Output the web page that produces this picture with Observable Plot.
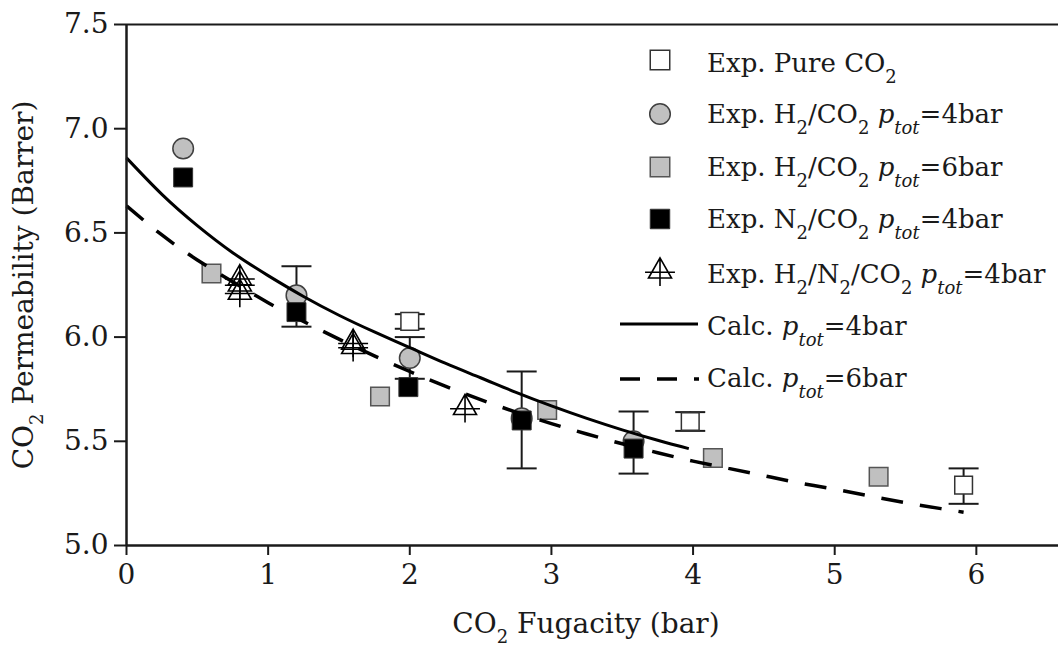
<!DOCTYPE html>
<html>
<head>
<meta charset="utf-8">
<script src="https://cdn.jsdelivr.net/npm/d3@7"></script>
<script src="https://cdn.jsdelivr.net/npm/@observablehq/plot@0.6"></script>
<style>
  html, body { margin: 0; padding: 0; background: #fff; }
  svg { display: block; }
</style>
</head>
<body>
<div id="chart"></div>
<script>
// ---------- data ----------
const xTicks = [0, 1, 2, 3, 4, 5, 6];
const yTicks = [5.0, 5.5, 6.0, 6.5, 7.0, 7.5];

// Exp. Pure CO2 (open squares, with error bars)
const pureX = [2.00, 3.98, 5.91];
const pureY = [6.075, 5.595, 5.29];
const pureLo = [6.04, 5.55, 5.20];
const pureHi = [6.11, 5.64, 5.37];

// Exp. H2/CO2 ptot=4bar (grey circles, with error bars)
const h4X = [0.40, 1.20, 2.00, 2.79, 3.58];
const h4Y = [6.905, 6.20, 5.90, 5.61, 5.50];
const h4Lo = [null, 6.05, 5.80, 5.37, 5.345];
const h4Hi = [null, 6.34, 6.00, 5.835, 5.643];

// Exp. H2/CO2 ptot=6bar (grey squares)
const h6X = [0.60, 1.79, 2.97, 4.14, 5.31];
const h6Y = [6.305, 5.715, 5.65, 5.42, 5.33];

// Exp. N2/CO2 ptot=4bar (black squares)
const n4X = [0.40, 1.20, 1.99, 2.79, 3.58];
const n4Y = [6.766, 6.12, 5.76, 5.60, 5.465];

// Exp. H2/N2/CO2 ptot=4bar (triangles with cross)
const tX = [0.80, 0.80, 0.80, 1.60, 1.60, 2.39];
const tY = [6.29, 6.26, 6.22, 5.98, 5.96, 5.667];

// Calc. ptot=4bar (solid)
const c4X = [0, 0.25, 0.5, 0.75, 1.0, 1.25, 1.5, 1.75, 2.0, 2.25, 2.5, 2.75, 3.0, 3.25, 3.5, 3.75, 3.97];
const c4Y = [6.86, 6.685, 6.535, 6.405, 6.295, 6.195, 6.105, 6.025, 5.95, 5.875, 5.805, 5.735, 5.67, 5.61, 5.555, 5.505, 5.465];

// Calc. ptot=6bar (dashed)
const c6X = [0, 0.25, 0.5, 0.75, 1.0, 1.25, 1.5, 1.75, 2.0, 2.25, 2.5, 2.75, 3.0, 3.25, 3.5, 3.75, 4.0, 4.25, 4.5, 4.75, 5.0, 5.25, 5.5, 5.75, 5.91];
const c6Y = [6.63, 6.49, 6.37, 6.265, 6.165, 6.075, 5.99, 5.91, 5.835, 5.765, 5.70, 5.64, 5.585, 5.535, 5.488, 5.445, 5.405, 5.37, 5.335, 5.30, 5.27, 5.237, 5.205, 5.177, 5.16];

// legend labels: [text, style] segments (sub = subscript, i = italic, isub = italic subscript)
const legendLabels = [
  [["Exp. Pure CO"], ["2", "sub"]],
  [["Exp. H"], ["2", "sub"], ["/CO"], ["2", "sub"], [" "], ["p", "i"], ["tot", "isub"], ["=4bar"]],
  [["Exp. H"], ["2", "sub"], ["/CO"], ["2", "sub"], [" "], ["p", "i"], ["tot", "isub"], ["=6bar"]],
  [["Exp. N"], ["2", "sub"], ["/CO"], ["2", "sub"], [" "], ["p", "i"], ["tot", "isub"], ["=4bar"]],
  [["Exp. H"], ["2", "sub"], ["/N"], ["2", "sub"], ["/CO"], ["2", "sub"], [" "], ["p", "i"], ["tot", "isub"], ["=4bar"]],
  [["Calc. "], ["p", "i"], ["tot", "isub"], ["=4bar"]],
  [["Calc. "], ["p", "i"], ["tot", "isub"], ["=6bar"]]
];
const xLabel = [["CO"], ["2", "sub"], [" Fugacity (bar)"]];
const yLabel = [["CO"], ["2", "sub"], [" Permeability (Barrer)"]];

// ---------- helpers ----------
const zip = (xs, ys) => xs.map((x, i) => ({x, y: ys[i]}));
const errs = (xs, lo, hi) => xs.map((x, i) => ({x, lo: lo[i], hi: hi[i]})).filter(d => d.lo != null);

const triCross = {
  draw(ctx, size) {
    const s = Math.sqrt(size / Math.PI);
    ctx.moveTo(0, -1.05 * s);
    ctx.lineTo(1.0 * s, 0.7 * s);
    ctx.lineTo(-1.0 * s, 0.7 * s);
    ctx.closePath();
    ctx.moveTo(-1.3 * s, 0.2 * s);
    ctx.lineTo(1.3 * s, 0.2 * s);
    ctx.moveTo(0, -1.05 * s);
    ctx.lineTo(0, 1.4 * s);
  }
};
const capSym = {
  draw(ctx, size) {
    const s = Math.sqrt(size / Math.PI);
    ctx.moveTo(-s, 0);
    ctx.lineTo(s, 0);
  }
};

const pure = zip(pureX, pureY);
const h4 = zip(h4X, h4Y);
const h6 = zip(h6X, h6Y);
const n4 = zip(n4X, n4Y);
const tri = zip(tX, tY);
const c4 = zip(c4X, c4Y);
const c6 = zip(c6X, c6Y);
const errAll = errs(pureX, pureLo, pureHi).concat(errs(h4X, h4Lo, h4Hi));

const FONT = "DejaVu Serif";
const INK = "#1a1a1a";

const chart = Plot.plot({
  width: 1058,
  height: 649,
  marginLeft: 126,
  marginRight: 0,
  marginTop: 24,
  marginBottom: 104,
  style: {fontFamily: FONT, fontSize: "28px", color: INK, background: "#fff"},
  x: {domain: [0, 6.58], label: null},
  y: {domain: [5, 7.5], label: null},
  marks: [
    Plot.axisX({ticks: xTicks, tickFormat: d => String(d), tickSize: 10, tickPadding: 9, strokeWidth: 2, fontSize: 28, label: null}),
    Plot.axisY({ticks: yTicks, tickFormat: d3.format(".1f"), tickSize: 12, tickPadding: 6, strokeWidth: 2, fontSize: 28, label: null}),
    // error bars
    Plot.ruleX(errAll, {x: "x", y1: "lo", y2: "hi", stroke: INK, strokeWidth: 2}),
    Plot.dot(errAll, {x: "x", y: "lo", symbol: capSym, r: 15, stroke: INK, strokeWidth: 2, fill: "none"}),
    Plot.dot(errAll, {x: "x", y: "hi", symbol: capSym, r: 15, stroke: INK, strokeWidth: 2, fill: "none"}),
    // markers
    Plot.dot(pure, {x: "x", y: "y", symbol: "square", r: 10, fill: "#fff", stroke: "#333", strokeWidth: 1.5}),
    Plot.dot(h4, {x: "x", y: "y", symbol: "circle", r: 10.3, fill: "#c0c0c0", stroke: "#404040", strokeWidth: 1.5}),
    Plot.dot(h6, {x: "x", y: "y", symbol: "square", r: 10.5, fill: "#c0c0c0", stroke: "#555", strokeWidth: 1.5}),
    Plot.dot(n4, {x: "x", y: "y", symbol: "square", r: 10.7, fill: "#000", stroke: "#333", strokeWidth: 1}),
    Plot.dot(tri, {x: "x", y: "y", symbol: triCross, r: 11.5, fill: "none", stroke: "#000", strokeWidth: 1.6}),
    // calculated curves
    Plot.line(c4, {x: "x", y: "y", curve: "natural", stroke: "#000", strokeWidth: 3, strokeLinecap: "butt"}),
    Plot.line(c6, {x: "x", y: "y", curve: "natural", stroke: "#000", strokeWidth: 3.5, strokeDasharray: "22,17", strokeLinecap: "butt"}),
    // frame lines
    Plot.ruleX([0], {stroke: INK, strokeWidth: 2.5}),
    Plot.ruleY([5], {stroke: INK, strokeWidth: 2.5}),
    Plot.ruleY([7.5], {stroke: INK, strokeWidth: 2})
  ]
});
document.getElementById("chart").appendChild(chart);

// ---------- rich text (sub/italic) ----------
function rich(textSel, segs, subSize, subShift) {
  let cur = 0;
  segs.forEach(([t, st]) => {
    const sub = st === "sub" || st === "isub";
    const target = sub ? subShift : 0;
    const ts = textSel.append("tspan").text(t);
    if (target !== cur) ts.attr("dy", target - cur);
    cur = target;
    if (sub) ts.attr("font-size", subSize);
    if (st === "i" || st === "isub") ts.attr("font-style", "italic");
  });
}

const svg = d3.select(chart);

// axis titles
const xt = svg.append("text")
  .attr("x", 586).attr("y", 633)
  .attr("text-anchor", "middle")
  .attr("font-family", FONT).attr("font-size", 28).attr("fill", INK);
rich(xt, xLabel, 18, 10);

const yt = svg.append("text")
  .attr("transform", "translate(33,285) rotate(-90)")
  .attr("text-anchor", "middle")
  .attr("font-family", FONT).attr("font-size", 28).attr("fill", INK);
rich(yt, yLabel, 18, 10);

// legend
const lg = svg.append("g")
  .attr("font-family", FONT).attr("font-size", 26).attr("fill", INK)
  .attr("text-anchor", "start");
const rowBase = [72, 123, 176, 228, 283, 335, 387];
const symY = [60, 114, 167, 219, 270, 324, 379];
const symX = 660;
const legendSyms = [
  {type: d3.symbolSquare, r: 11, fill: "#fff", stroke: "#333", sw: 1.5},
  {type: d3.symbolCircle, r: 10.3, fill: "#c0c0c0", stroke: "#404040", sw: 1.5},
  {type: d3.symbolSquare, r: 11, fill: "#c0c0c0", stroke: "#555", sw: 1.5},
  {type: d3.symbolSquare, r: 11, fill: "#000", stroke: "#333", sw: 1},
  {type: triCross, r: 11.5, fill: "none", stroke: "#000", sw: 1.6}
];
legendSyms.forEach((s, i) => {
  lg.append("path")
    .attr("transform", `translate(${symX},${symY[i]})`)
    .attr("d", d3.symbol(s.type, Math.PI * s.r * s.r)())
    .attr("fill", s.fill).attr("stroke", s.stroke).attr("stroke-width", s.sw);
});
lg.append("line").attr("x1", 620).attr("x2", 698).attr("y1", symY[5]).attr("y2", symY[5])
  .attr("stroke", "#000").attr("stroke-width", 3);
lg.append("line").attr("x1", 620).attr("x2", 699).attr("y1", symY[6]).attr("y2", symY[6])
  .attr("stroke", "#000").attr("stroke-width", 3.5).attr("stroke-dasharray", "20,17");
legendLabels.forEach((segs, i) => {
  const t = lg.append("text").attr("x", 707).attr("y", rowBase[i]);
  rich(t, segs, 18, 11);
});
</script>
</body>
</html>
